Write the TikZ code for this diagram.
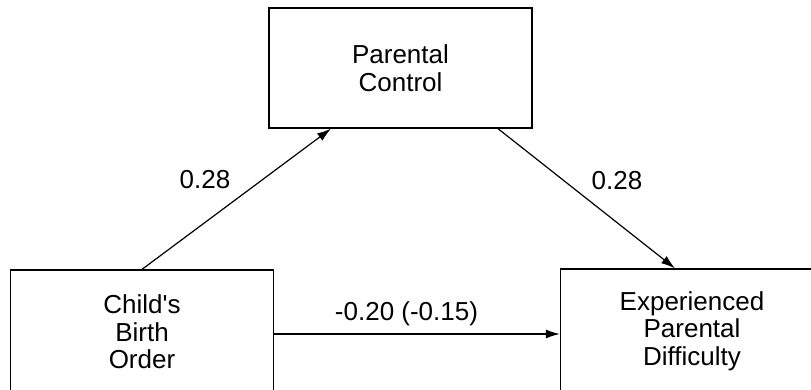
\documentclass[tikz,border=0pt]{standalone}
\usepackage{fontspec}
\setmainfont{Liberation Sans}[Ligatures=TeXOff]
\usetikzlibrary{arrows.meta}
\begin{document}
\begin{tikzpicture}[x=1pt,y=-1pt,
  box/.style={draw,line width=1.3pt,minimum width=263pt,minimum height=124pt,inner sep=0pt,align=center,font=\fontsize{26}{27.5}\selectfont},
  lbl/.style={anchor=base,font=\fontsize{26}{27.5}\selectfont,inner sep=0pt},
  conn/.style={line width=1.2pt,-{Latex[length=14pt,width=9pt]}}]
\useasboundingbox (0,0) rectangle (811,389);
\clip (0,0) rectangle (811,389);
\fill[white] (0,0) rectangle (811,389);
\node[box,minimum height=120pt] (pc) at (400.5,68) {Parental\\Control};
\node[box] (cbo) at (142,332) {Child's\\Birth\\Order};
\node[box] (epd) at (692,331) {Experienced\\Parental\\Difficulty};
\draw[conn] (cbo.north) -- ([xshift=-69.5pt]pc.south);
\draw[conn] ([xshift=97.5pt]pc.south) -- ([xshift=-17pt]epd.north);
\draw[conn] ([yshift=-2pt]cbo.east) -- ([yshift=-2pt]epd.west |- cbo.east);
\node[lbl] (l1) at (205,188) {0.28};
\node[lbl] (l2) at (617,189) {0.28};
\node[lbl] (l3) at (406.5,320) {-0.20 (-0.15)};
\end{tikzpicture}
\end{document}
